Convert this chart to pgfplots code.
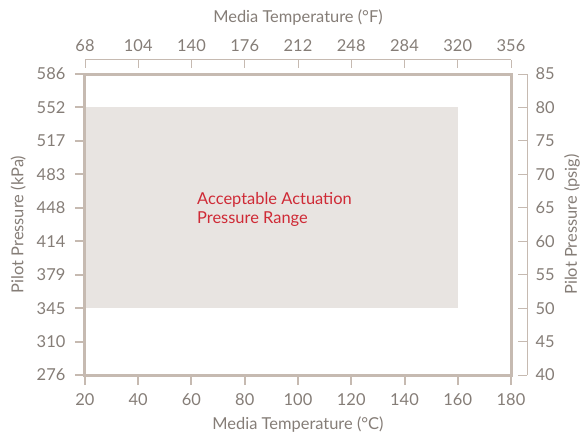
\documentclass[border=0pt]{standalone}
\usepackage{pgfplots}
\pgfplotsset{compat=1.18}
\usepackage{fontspec}
\setmainfont{Lato}
\definecolor{frame}{HTML}{C6BAB1}
\definecolor{txt}{HTML}{857D77}
\definecolor{shade}{HTML}{E8E4E1}
\definecolor{accent}{HTML}{CF2A36}
\begin{document}
\fontsize{16.5}{20}\selectfont
\begin{tikzpicture}
\useasboundingbox (-85bp,-61bp) rectangle (502bp,375bp);
\pgfplotsset{
  every axis/.append style={
    scale only axis, width=426bp, height=301bp,
    xmin=20, xmax=180, ymin=40, ymax=85,
    at={(0,0)}, anchor=south west,
    /pgf/number format/assume math mode=true,
    tick label style={text=txt, font=\fontsize{16.5}{20}\selectfont},
    label style={text=txt, font=\fontsize{16.5}{20}\selectfont},
  },
}
% main axis: kPa (left) and degC (bottom)
\begin{axis}[
  axis on top, clip=false,
  axis line style={frame, line width=3bp},
  xtick={20,40,...,180},
  ytick={40,45,...,85},
  yticklabels={276,310,345,379,414,448,483,517,552,586},
  xtick pos=bottom, ytick pos=left,
  tick align=outside, major tick length=10bp,
  tick style={frame, line width=2bp},
  xticklabel style={yshift=-3bp},
  yticklabel style={xshift=-4bp},
  xlabel={Media Temperature (°C)},
  ylabel={Pilot Pressure (kPa)},
  xlabel style={at={(axis description cs:0.5,-0.163)}, anchor=center},
  ylabel style={at={(axis description cs:-0.157,0.5)}, anchor=center},
]
\addplot[fill=shade, draw=none] coordinates {(20,50) (160,50) (160,80) (20,80)} -- cycle;
\node[anchor=west, align=left, text=accent, font=\fontsize{16.5}{19}\selectfont]
  at (axis cs:60,64.8) {Acceptable Actuation\\Pressure Range};
\end{axis}
% top axis: degF
\begin{axis}[
  at={(0,14bp)},
  axis x line*=top, axis y line=none,
  axis line style={frame, line width=1bp, -},
  every outer x axis line/.append style={-},
  xtick={20,40,...,180},
  xticklabels={68,104,140,176,212,248,284,320,356},
  tick align=inside, major tick length=8bp,
  tick style={frame, line width=1bp},
  xticklabel style={yshift=3bp},
  xlabel={Media Temperature (°F)},
  xlabel style={at={(axis description cs:0.5,1.1395)}, anchor=center},
]
\end{axis}
% right axis: psig
\begin{axis}[
  at={(16bp,0)},
  axis y line*=right, axis x line=none,
  axis line style={frame, line width=1bp, -},
  every outer y axis line/.append style={-},
  ytick={40,45,...,85},
  tick align=inside, major tick length=9bp,
  tick style={frame, line width=1bp},
  yticklabel style={xshift=3bp},
  ylabel={Pilot Pressure (psig)},
  ylabel style={at={(axis description cs:1.1056,0.5)}, anchor=center},
]
\end{axis}
\end{tikzpicture}
\end{document}
